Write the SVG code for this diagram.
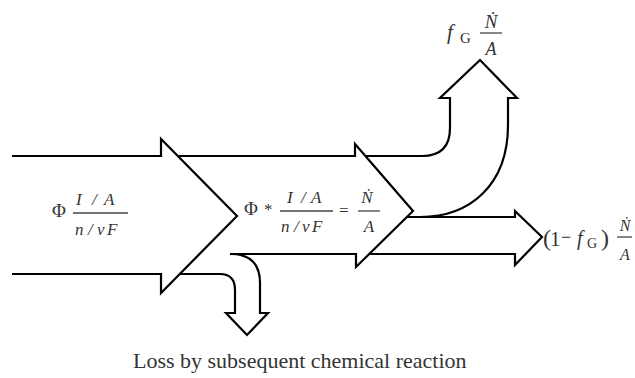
<svg xmlns="http://www.w3.org/2000/svg" width="635" height="378" viewBox="0 0 635 378">
<style>
.ln{fill:none;stroke:#000;stroke-width:2.2;stroke-linejoin:miter;stroke-linecap:butt}
.bar{stroke:#444;stroke-width:1.3}
text{font-family:"Liberation Serif","DejaVu Serif",serif;fill:#333}
.i{font-style:italic}
</style>
<rect width="635" height="378" fill="#fff"/>
<g id="connectors">
<path id="flow-input" class="ln" d="M12,156 H161 V139 L237,216 L161,293 V274 H12"/>
<path id="flow-loss" class="ln" d="M180,274 H220 Q235,274 235,290 V313 H226 L247,335 L268,313 H260 V283 Q260,255 232,254"/>
<path id="flow-main" class="ln" d="M179,156 H355 V144 L413,211 L356,267 V254 H230"/>
<path id="flow-gas" class="ln" d="M366,156 H422 Q450,156 450,128 V98 H440 L480,60 L517,98 H508 V125 C508,185 470,217 420,217"/>
<path id="flow-out" class="ln" d="M407,217 H515 V211 L542,237 L515,265 V254 H369"/>
</g>
<g id="label-input">
<text x="52" y="217" font-size="19">Φ</text>
<text class="i" font-size="17" y="205"><tspan x="76">I</tspan><tspan x="92">/</tspan><tspan x="104">A</tspan></text>
<line class="bar" x1="73" y1="213" x2="128" y2="213"/>
<text class="i" font-size="17" y="235"><tspan x="75">n</tspan><tspan x="88">/</tspan><tspan x="97">ν</tspan><tspan x="107">F</tspan></text>
</g>
<g id="label-main">
<text x="244" y="215" font-size="19">Φ</text>
<text x="264" y="215" font-size="17">*</text>
<text class="i" font-size="17" y="203"><tspan x="287">I</tspan><tspan x="301">/</tspan><tspan x="311">A</tspan></text>
<line class="bar" x1="280" y1="211" x2="333" y2="211"/>
<text class="i" font-size="17" y="232"><tspan x="281">n</tspan><tspan x="294">/</tspan><tspan x="302">ν</tspan><tspan x="312">F</tspan></text>
<text x="339" y="216" font-size="17">=</text>
<text class="i" x="367" y="203" font-size="17" text-anchor="middle">Ṅ</text>
<line class="bar" x1="358" y1="211" x2="380" y2="211"/>
<text class="i" x="369" y="232" font-size="17" text-anchor="middle">A</text>
</g>
<g id="label-gas">
<text class="i" x="447" y="39" font-size="21">f</text>
<text x="460" y="43" font-size="15">G</text>
<text class="i" x="491" y="28" font-size="19" text-anchor="middle">Ṅ</text>
<line class="bar" x1="480" y1="33" x2="502" y2="33"/>
<text class="i" x="491" y="55" font-size="18" text-anchor="middle">A</text>
</g>
<g id="label-out">
<text x="543" y="246" font-size="24">(</text>
<text x="550" y="246" font-size="21">1</text>
<text x="561" y="243" font-size="18">−</text>
<text class="i" x="577" y="245" font-size="20">f</text>
<text x="587" y="248" font-size="14">G</text>
<text x="601" y="246" font-size="24">)</text>
<text class="i" x="625" y="231" font-size="16" text-anchor="middle">Ṅ</text>
<line class="bar" x1="617" y1="237" x2="632" y2="237"/>
<text class="i" x="625" y="260" font-size="16" text-anchor="middle">A</text>
</g>
<g id="caption">
<text x="133" y="368" font-size="22">Loss by subsequent chemical reaction</text>
</g>
</svg>
